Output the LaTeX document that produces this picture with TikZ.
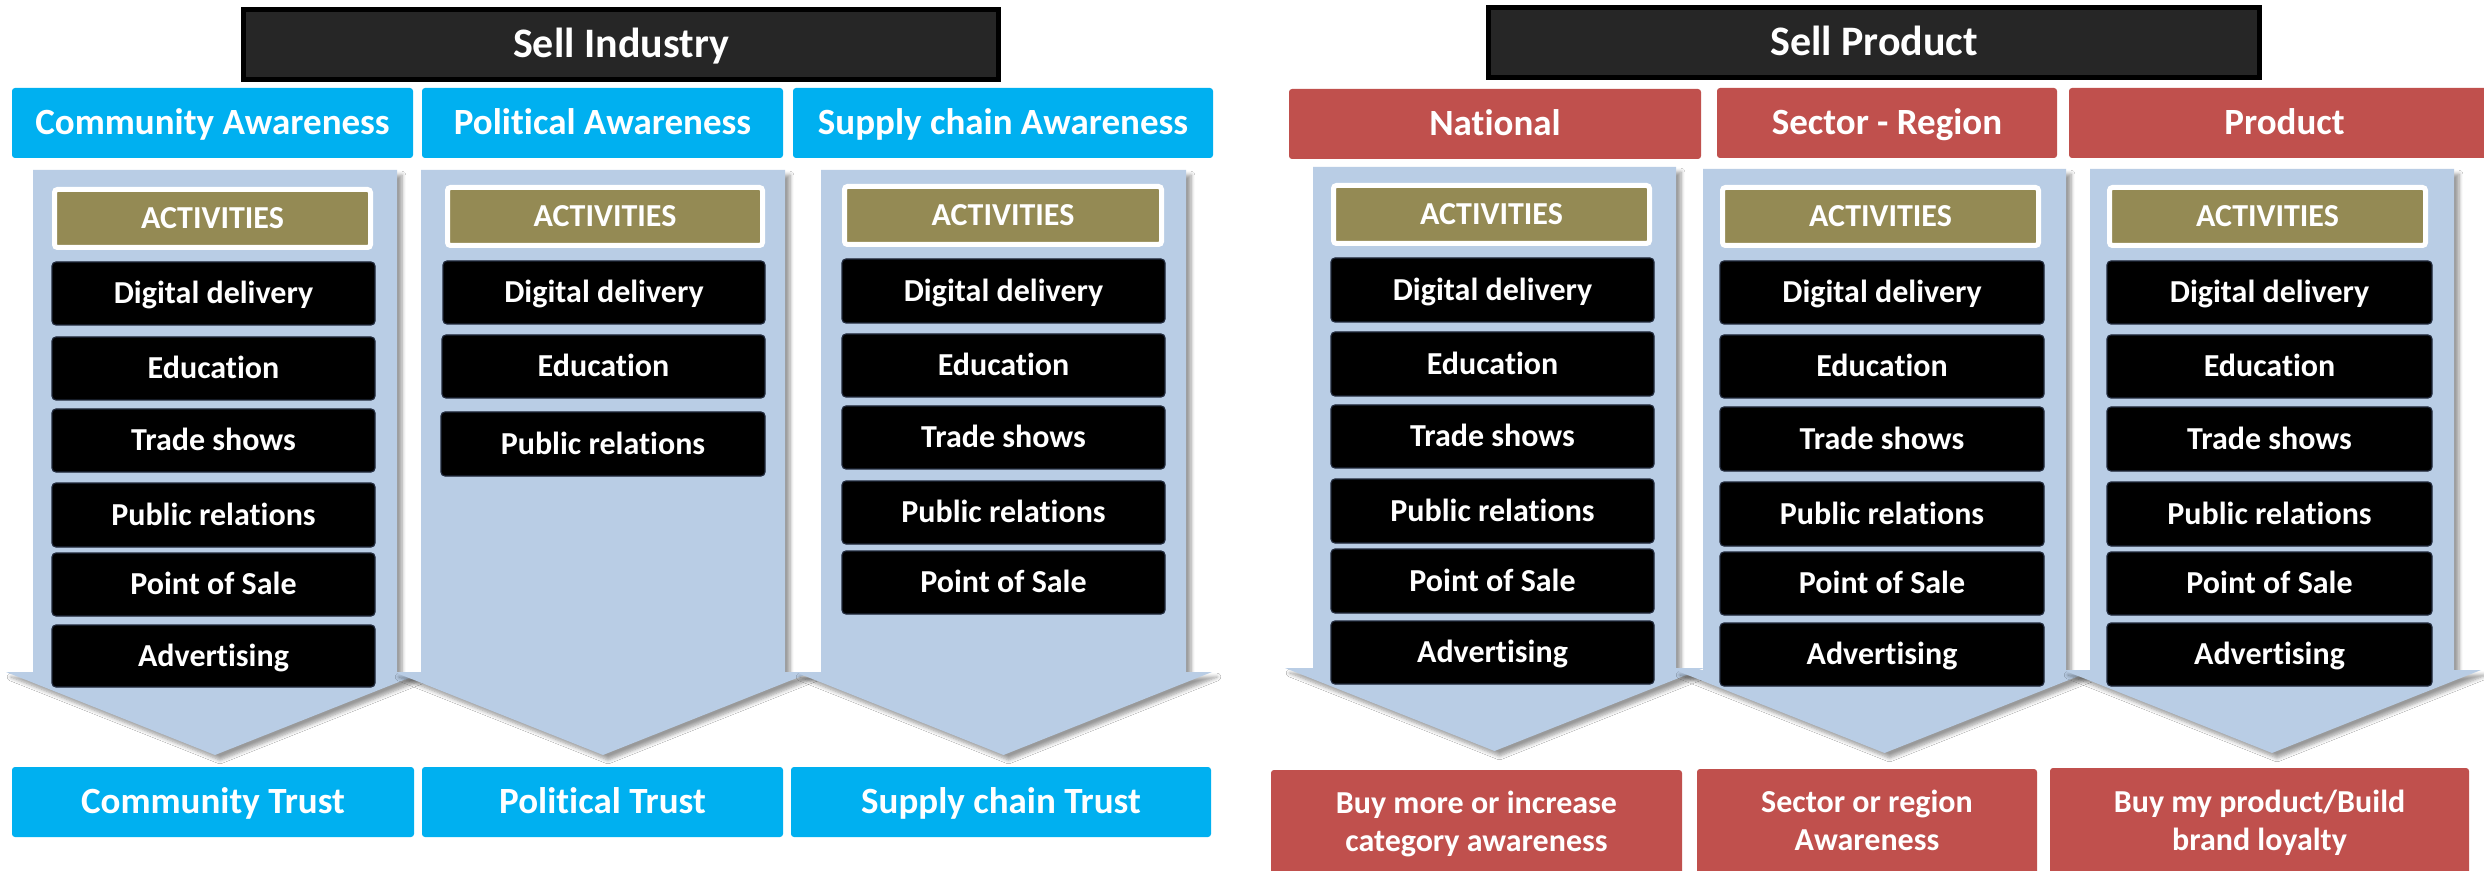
\documentclass[tikz,border=0pt]{standalone}
\usepackage{fontspec}
\setmainfont{Carlito}[Ligatures=NoCommon]
\usetikzlibrary{shadows.blur}
\definecolor{cyanB}{HTML}{00B0F0}
\definecolor{redB}{HTML}{C0504D}
\definecolor{arrowblue}{HTML}{B9CDE5}
\definecolor{actolive}{HTML}{948A54}
\definecolor{topdark}{HTML}{262626}
\definecolor{itemedge}{HTML}{20283A}
\newcommand\bx[7]{\node[#6, anchor=north west, minimum width={(#4-#2)*0.5pt}, minimum height={(#5-#3)*0.5pt}] (#1) at (#2,#3) {#7};}
\tikzset{
 txtbase/.style={inner sep=0pt, outer sep=0pt, text=white},
 topbox/.style={txtbase, fill=topdark, draw=black, line width=2.5pt, font=\bfseries\fontsize{21}{25}\selectfont, text height=13.3pt, text depth=0pt},
 headbox/.style={txtbase, rounded corners=1.5pt, font=\bfseries\fontsize{18.5}{22}\selectfont, text height=11.7pt, text depth=0pt},
 cyanhead/.style={headbox, fill=cyanB},
 redhead/.style={headbox, fill=redB},
 actbox/.style={txtbase, fill=actolive, draw=white, line width=2.5pt, rounded corners=1.5pt, font=\bfseries\fontsize{16}{19}\selectfont, text height=10.1pt, text depth=0pt},
 itembox/.style={txtbase, fill=black, draw=itemedge, line width=0.6pt, rounded corners=2pt, font=\bfseries\fontsize{16}{19}\selectfont, text height=10.1pt, text depth=0pt},
 resultbox/.style={txtbase, fill=redB, rounded corners=1.5pt, align=center, font=\bfseries\fontsize{16}{19}\selectfont, text height=29.6pt, text depth=3.2pt},
 arrowshape/.style={fill=arrowblue, blur shadow={shadow xshift=2.5pt, shadow yshift=-2.5pt, shadow blur steps=6, shadow opacity=40}},
}
\begin{document}
\begin{tikzpicture}[x=0.5pt,y=-0.5pt]
\useasboundingbox (0,0) rectangle (2484,871);
\fill[white] (0,0) rectangle (2484,871);
\clip (0,0) rectangle (2484,871);

% ---------- top titles ----------
\bx{sellind}{243.5}{9.5}{998.5}{79.5}{topbox}{Sell Industry}
\bx{sellprod}{1488.5}{7.5}{2259.5}{77.5}{topbox}{Sell Product}

% ---------- column headers ----------
\bx{hcom}{12}{88}{413}{158}{cyanhead}{Community Awareness}
\bx{hpol}{422}{88}{783}{158}{cyanhead}{Political Awareness}
\bx{hsup}{793}{88}{1213}{158}{cyanhead}{Supply chain Awareness}
\bx{hnat}{1289}{89}{1701}{159}{redhead}{National}
\bx{hsec}{1717}{88}{2057}{158}{redhead}{Sector - Region}
\node[redhead, anchor=north west, minimum width={(2500-2069)*0.5pt}, minimum height={70*0.5pt}, text width={(2484-2069)*0.5pt}, align=center] (hpro) at (2069,88) {Product};

% ---------- big arrows ----------
\path[arrowshape] (33,170) -- (397,170) -- (397,672) -- (424,672) -- (215,755) -- (6,672) -- (33,672) -- cycle;
\path[arrowshape] (421,170) -- (785,170) -- (785,672) -- (812,672) -- (603,755) -- (394,672) -- (421,672) -- cycle;
\path[arrowshape] (821,170) -- (1186,170) -- (1186,672) -- (1212,672) -- (1003.5,755) -- (795,672) -- (821,672) -- cycle;
\path[arrowshape] (1313,167) -- (1676,167) -- (1676,668) -- (1704,668) -- (1494.5,751) -- (1285,668) -- (1313,668) -- cycle;
\path[arrowshape] (1703,169) -- (2066,169) -- (2066,670) -- (2094,670) -- (1884.5,753) -- (1675,670) -- (1703,670) -- cycle;
\path[arrowshape] (2090,169) -- (2454,169) -- (2454,670) -- (2481,670) -- (2272,753) -- (2063,670) -- (2090,670) -- cycle;

% ---------- activities headers ----------
\bx{a1}{54.5}{189.5}{370.5}{247.5}{actbox}{ACTIVITIES}
\bx{a2}{447.5}{187.5}{762.5}{245.5}{actbox}{ACTIVITIES}
\bx{a3}{844.5}{186.5}{1161.5}{244.5}{actbox}{ACTIVITIES}
\bx{a4}{1333.5}{185.5}{1649.5}{243.5}{actbox}{ACTIVITIES}
\bx{a5}{1722.5}{187.5}{2038.5}{245.5}{actbox}{ACTIVITIES}
\bx{a6}{2109.5}{187.5}{2425.5}{245.5}{actbox}{ACTIVITIES}

% ---------- column 1 (Community) ----------
\bx{c1i1}{52}{262}{375}{325}{itembox}{Digital delivery}
\bx{c1i2}{52}{337}{375}{400}{itembox}{Education}
\bx{c1i3}{52}{409}{375}{472}{itembox}{Trade shows}
\bx{c1i4}{52}{483}{375}{547}{itembox}{Public relations}
\bx{c1i5}{52}{553}{375}{616}{itembox}{Point of Sale}
\bx{c1i6}{52}{625}{375}{687}{itembox}{Advertising}

% ---------- column 2 (Political) ----------
\bx{c2i1}{443}{261}{765}{324}{itembox}{Digital delivery}
\bx{c2i2}{442}{335}{765}{398}{itembox}{Education}
\bx{c2i3}{441}{412}{765}{476}{itembox}{Public relations}

% ---------- column 3 (Supply chain) ----------
\bx{c3i1}{842}{259}{1165}{323}{itembox}{Digital delivery}
\bx{c3i2}{842}{334}{1165}{397}{itembox}{Education}
\bx{c3i3}{842}{406}{1165}{469}{itembox}{Trade shows}
\bx{c3i4}{842}{481}{1165}{544}{itembox}{Public relations}
\bx{c3i5}{842}{551}{1165}{614}{itembox}{Point of Sale}

% ---------- column 4 (National) ----------
\bx{c4i1}{1331}{258}{1654}{322}{itembox}{Digital delivery}
\bx{c4i2}{1331}{332}{1654}{396}{itembox}{Education}
\bx{c4i3}{1331}{405}{1654}{468}{itembox}{Trade shows}
\bx{c4i4}{1331}{479}{1654}{543}{itembox}{Public relations}
\bx{c4i5}{1331}{549}{1654}{613}{itembox}{Point of Sale}
\bx{c4i6}{1331}{621}{1654}{684}{itembox}{Advertising}

% ---------- column 5 (Sector - Region) ----------
\bx{c5i1}{1720}{261}{2044}{324}{itembox}{Digital delivery}
\bx{c5i2}{1720}{335}{2044}{398}{itembox}{Education}
\bx{c5i3}{1720}{407}{2044}{471}{itembox}{Trade shows}
\bx{c5i4}{1720}{482}{2044}{546}{itembox}{Public relations}
\bx{c5i5}{1720}{552}{2044}{615}{itembox}{Point of Sale}
\bx{c5i6}{1720}{623}{2044}{686}{itembox}{Advertising}

% ---------- column 6 (Product) ----------
\bx{c6i1}{2107}{261}{2432}{324}{itembox}{Digital delivery}
\bx{c6i2}{2107}{335}{2432}{398}{itembox}{Education}
\bx{c6i3}{2107}{407}{2432}{471}{itembox}{Trade shows}
\bx{c6i4}{2107}{482}{2432}{546}{itembox}{Public relations}
\bx{c6i5}{2107}{552}{2432}{615}{itembox}{Point of Sale}
\bx{c6i6}{2107}{623}{2432}{686}{itembox}{Advertising}

% ---------- results ----------
\bx{rcom}{12}{767}{414}{837}{cyanhead}{Community Trust}
\bx{rpol}{422}{767}{783}{837}{cyanhead}{Political Trust}
\bx{rsup}{791}{767}{1211}{837}{cyanhead}{Supply chain Trust}
\bx{rnat}{1271}{770}{1682}{880}{resultbox}{Buy more or increase\\category awareness}
\bx{rsec}{1697}{769}{2037}{880}{resultbox}{Sector or region\\Awareness}
\bx{rpro}{2050}{768}{2469}{880}{resultbox}{Buy my product/Build\\brand loyalty}
\end{tikzpicture}
\end{document}
